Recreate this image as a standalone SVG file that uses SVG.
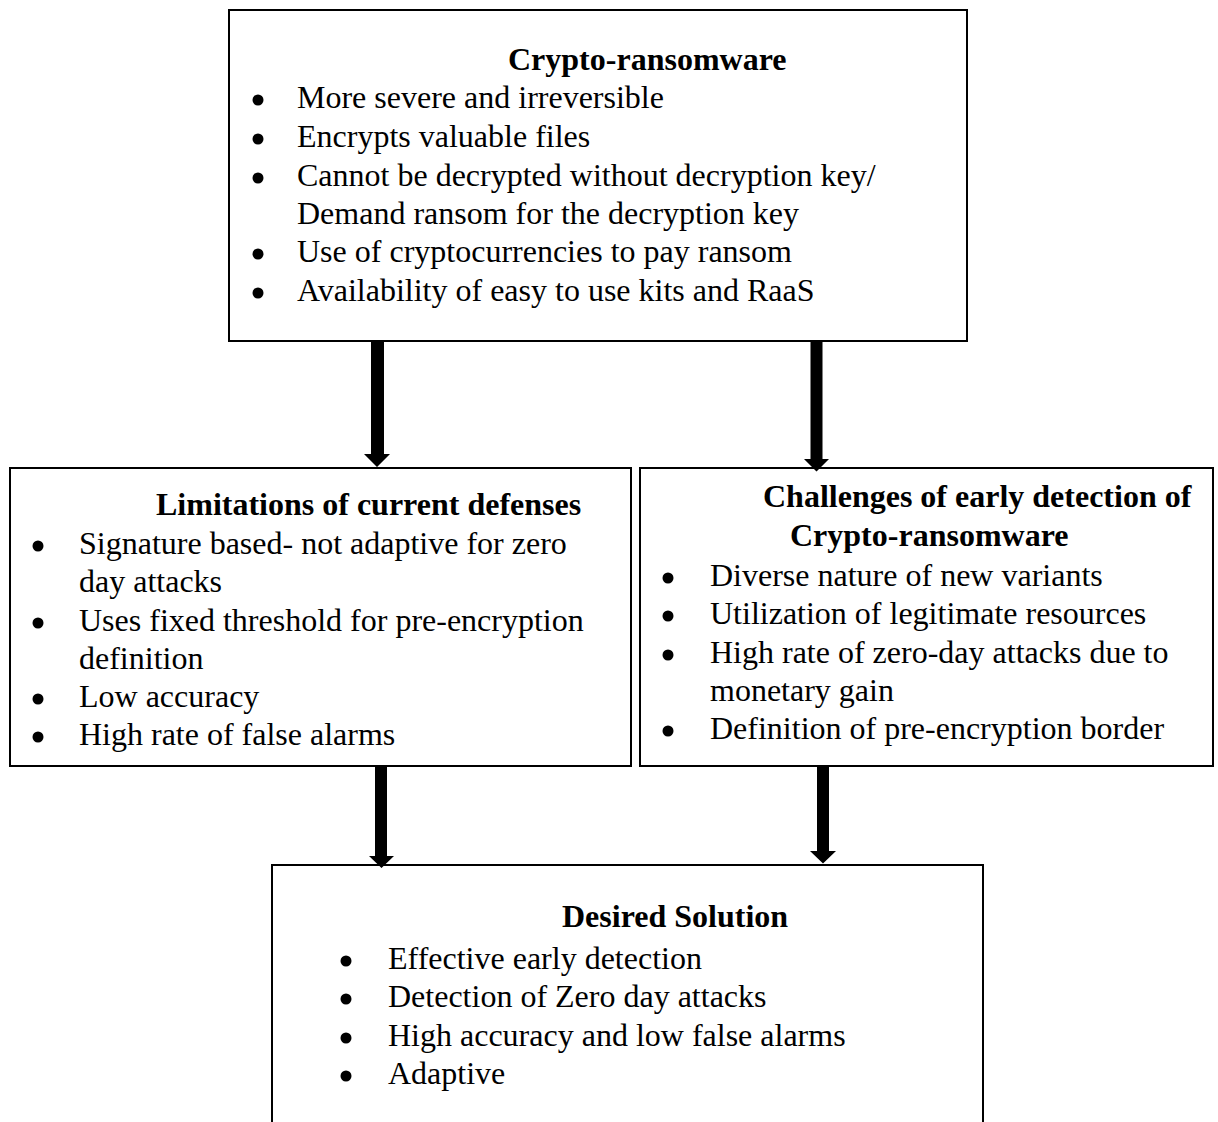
<svg xmlns="http://www.w3.org/2000/svg" width="1218" height="1122" viewBox="0 0 1218 1122">
  <style>
    .box { fill: #ffffff; stroke: #000000; stroke-width: 2; }
    .open { fill: none; stroke: #000000; stroke-width: 2; }
    .title { font-family: "Liberation Serif", "Times New Roman", serif; font-size: 32px; font-weight: bold; fill: #000000; }
    .item { font-family: "Liberation Serif", "Times New Roman", serif; font-size: 32px; fill: #000000; }
    .dot { fill: #000000; }
    .arrow { fill: #000000; stroke: none; }
  </style>
  <rect width="1218" height="1122" fill="#ffffff"/>

  <!-- Top node: crypto-ransomware characteristics -->
  <g id="node-crypto-ransomware">
    <rect class="box" x="229" y="10" width="738" height="331"/>
    <text class="title" x="508" y="70">Crypto-ransomware</text>
    <circle class="dot" cx="258" cy="100" r="5.5"/>
    <text class="item" x="297" y="108">More severe and irreversible</text>
    <circle class="dot" cx="258" cy="139" r="5.5"/>
    <text class="item" x="297" y="147">Encrypts valuable files</text>
    <circle class="dot" cx="258" cy="178" r="5.5"/>
    <text class="item" x="297" y="186">Cannot be decrypted without decryption key/</text>
    <text class="item" x="297" y="224">Demand ransom for the decryption key</text>
    <circle class="dot" cx="258" cy="254" r="5.5"/>
    <text class="item" x="297" y="262">Use of cryptocurrencies to pay ransom</text>
    <circle class="dot" cx="258" cy="293" r="5.5"/>
    <text class="item" x="297" y="301">Availability of easy to use kits and RaaS</text>
  </g>

  <!-- Left middle node: limitations -->
  <g id="node-limitations">
    <rect class="box" x="10" y="468" width="621" height="298"/>
    <text class="title" x="156" y="515">Limitations of current defenses</text>
    <circle class="dot" cx="38" cy="546" r="5.5"/>
    <text class="item" x="79" y="554">Signature based- not adaptive for zero</text>
    <text class="item" x="79" y="592">day attacks</text>
    <circle class="dot" cx="38" cy="623" r="5.5"/>
    <text class="item" x="79" y="631">Uses fixed threshold for pre-encryption</text>
    <text class="item" x="79" y="669">definition</text>
    <circle class="dot" cx="38" cy="699" r="5.5"/>
    <text class="item" x="79" y="707">Low accuracy</text>
    <circle class="dot" cx="38" cy="737" r="5.5"/>
    <text class="item" x="79" y="745">High rate of false alarms</text>
  </g>

  <!-- Right middle node: challenges -->
  <g id="node-challenges">
    <rect class="box" x="640" y="468" width="573" height="298"/>
    <text class="title" x="763" y="507">Challenges of early detection of</text>
    <text class="title" x="790" y="546">Crypto-ransomware</text>
    <circle class="dot" cx="668" cy="578" r="5.5"/>
    <text class="item" x="710" y="586">Diverse nature of new variants</text>
    <circle class="dot" cx="668" cy="616" r="5.5"/>
    <text class="item" x="710" y="624">Utilization of legitimate resources</text>
    <circle class="dot" cx="668" cy="655" r="5.5"/>
    <text class="item" x="710" y="663">High rate of zero-day attacks due to</text>
    <text class="item" x="710" y="701">monetary gain</text>
    <circle class="dot" cx="668" cy="731" r="5.5"/>
    <text class="item" x="710" y="739">Definition of pre-encryption border</text>
  </g>

  <!-- Bottom node: desired solution (open at the lower edge) -->
  <g id="node-desired-solution">
    <rect x="272" y="865" width="711" height="257" fill="#ffffff"/>
    <path class="open" d="M272,1122 V865 H983 V1122"/>
    <text class="title" x="562" y="927">Desired Solution</text>
    <circle class="dot" cx="346" cy="961" r="5.5"/>
    <text class="item" x="388" y="969">Effective early detection</text>
    <circle class="dot" cx="346" cy="999" r="5.5"/>
    <text class="item" x="388" y="1007">Detection of Zero day attacks</text>
    <circle class="dot" cx="346" cy="1038" r="5.5"/>
    <text class="item" x="388" y="1046">High accuracy and low false alarms</text>
    <circle class="dot" cx="346" cy="1076" r="5.5"/>
    <text class="item" x="388" y="1084">Adaptive</text>
  </g>

  <!-- Connectors: thick block arrows -->
  <g id="connectors">
    <path class="arrow" d="M371,341 H384 V454 H390 L377,467 L364,454 H371 Z"/>
    <path class="arrow" d="M810.5,341 H822.5 V459 H829 L816.5,471.5 L804,459 H810.5 Z"/>
    <path class="arrow" d="M375,766 H387 V856 H394 L381.5,868 L369,856 H375 Z"/>
    <path class="arrow" d="M817,766 H829 V851 H836 L823,863.5 L810,851 H817 Z"/>
  </g>
</svg>
